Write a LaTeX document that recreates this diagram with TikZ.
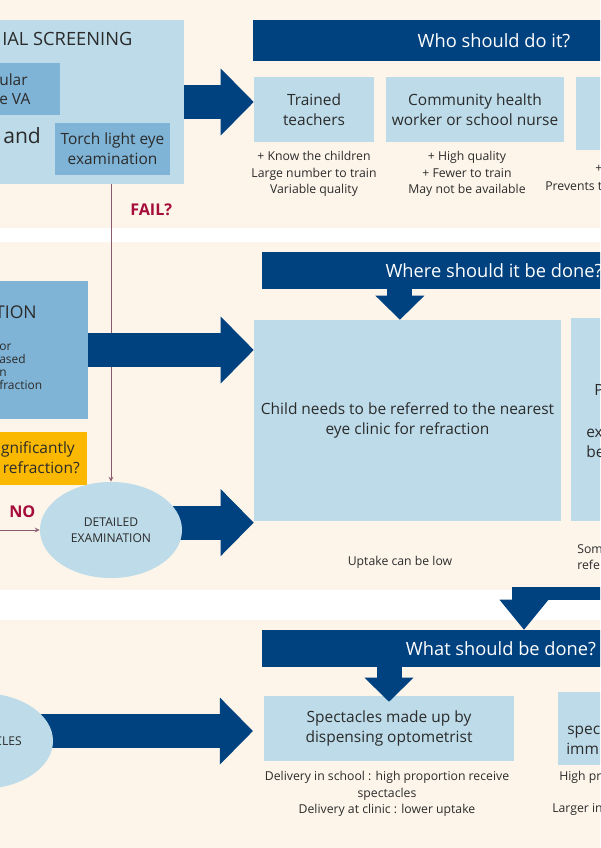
\documentclass[tikz,border=0pt]{standalone}
\usepackage{fontspec}
\setmainfont{Open Sans}
\usetikzlibrary{shapes.geometric,arrows,arrows.meta,calc}
\definecolor{cream}{HTML}{FDF5EA}
\definecolor{lblue}{HTML}{BDDBE8}
\definecolor{mblue}{HTML}{80B4D6}
\definecolor{navy}{HTML}{00427F}
\definecolor{gold}{HTML}{FBB800}
\definecolor{alert}{HTML}{A50D3B}
\definecolor{wine}{HTML}{8B5A6E}
\definecolor{ink}{HTML}{2B2B2B}
\pgfdeclarelayer{back}
\pgfsetlayers{back,main}

\begin{document}
\begin{tikzpicture}[x=0.025cm,y=-0.025cm]
\tikzstyle{box} = [rectangle, inner sep=0pt, fill=lblue, text=ink, align=center, font=\fontsize{11}{14.2}\selectfont]
\tikzstyle{midbox} = [box, fill=mblue]
\tikzstyle{header} = [rectangle, inner sep=0pt, fill=navy, text=white, font=\fontsize{13}{15}\selectfont]
\tikzstyle{oval} = [ellipse, inner sep=0pt, fill=lblue, text=ink, align=center, font=\fontsize{8.6}{11.4}\selectfont]
\tikzstyle{note} = [inner sep=0pt, text=ink, align=center, font=\fontsize{8.7}{11.7}\selectfont]
\tikzstyle{frag} = [inner sep=0pt, text=ink, font=\fontsize{11}{14.2}\selectfont]
\tikzstyle{small} = [note, anchor=base west]
\tikzstyle{caps} = [inner sep=0pt, text=ink, font=\fontsize{8.6}{11.4}\selectfont]
\tikzstyle{flag} = [inner sep=0pt, anchor=base west, text=alert, font=\fontsize{11.5}{12}\selectfont\bfseries]
\tikzstyle{bigarrow} = [draw=navy, line width=0.85cm, -{Triangle[length=0.825cm, width=1.675cm, line width=0pt]}]
\tikzstyle{downarrow} = [draw=navy, line width=0.625cm, -{Triangle[length=0.6cm, width=1.225cm, line width=0pt]}]
\tikzstyle{arrow} = [draw=wine, line width=0.6pt, ->, >=stealth]

\useasboundingbox (0,0) rectangle (600,848);
\clip (0,0) rectangle (600,848);

% bands
\begin{pgfonlayer}{back}
\fill[white] (0,0) rectangle (600,848);
\fill[cream] (0,0) rectangle (600,228);
\fill[cream] (0,242) rectangle (600,590);
\fill[cream] (0,620) rectangle (600,848);
\end{pgfonlayer}

% screening
\node (screen) [box, minimum width=5.1cm, minimum height=4.1cm] at (82,102) {};
\node (scrtitle) [frag, anchor=base west, font=\fontsize{13}{15}\selectfont] at (2,45) {IAL SCREENING};
\node (va) [midbox, minimum width=2cm, minimum height=1.3cm] at (20,89) {};
\node (va1) [frag, anchor=base west] at (-1,85) {ular};
\node (va2) [frag, anchor=base west] at (-1,104) {e VA};
\node (andtxt) [frag, anchor=base west, font=\fontsize{15}{18}\selectfont] at (3,143) {and};
\node (torch) [midbox, minimum width=2.875cm, minimum height=1.3cm] at (112.5,149) {Torch light eye\\examination};
\node (fail) [flag] at (130,215) {FAIL?};

% who
\node (who) [header, minimum width=12.05cm, minimum height=1.025cm] at (494,40.5) {Who should do it?};
\node (teach) [box, minimum width=3cm, minimum height=1.625cm] at (314,109.5) {Trained\\teachers};
\node (chw) [box, minimum width=4.45cm, minimum height=1.625cm] at (475,109.5) {Community health\\worker or school nurse};
\node (who3) [box, minimum width=3.1cm, minimum height=1.825cm] at (638,113.5) {};
\node (teachnote) [note, anchor=north] at (314,151) {+ Know the children\\Large number to train\\Variable quality};
\node (chwnote) [note, anchor=north] at (467,151) {+ High quality\\+ Fewer to train\\May not be available};
\node (who3a) [small] at (595,172) {+};
\node (who3b) [small] at (545,190) {Prevents t};

% refraction
\node (tion) [midbox, minimum width=2.7cm, minimum height=3.45cm] at (34,350) {};
\node (tiontitle) [frag, anchor=base east, font=\fontsize{12.5}{15}\selectfont] at (37,318) {TION};
\foreach \t/\y in {or/350, ased/363, n/376, fraction/389}
  \node (tion\y) [caps, anchor=base west, font=\fontsize{8.5}{9}\selectfont] at (-1,\y) {\t};
\node (sig) [box, fill=gold, minimum width=2.675cm, minimum height=1.325cm] at (33.5,458.5) {};
\node (sig1) [frag, anchor=base east] at (75,453) {gnificantly};
\node (sig2) [frag, anchor=base east] at (80,473) {refraction?};
\node (exam) [oval, minimum width=3.55cm, minimum height=2.4cm] at (111,530) {DETAILED\\EXAMINATION};
\node (no) [flag] at (9,517) {NO};
\coordinate (noin) at (-5,530);

% where
\node (where) [header, minimum width=11.6cm, minimum height=0.925cm] at (494,270.5) {Where should it be done?};
\node (refer) [box, minimum width=7.675cm, minimum height=5.025cm] at (407.5,420.5) {Child needs to be referred to the nearest\\eye clinic for refraction};
\node (where2) [box, minimum width=3.225cm, minimum height=5.075cm] at (635.5,419.5) {};
\node (where2a) [frag, anchor=base west] at (594,395) {P};
\node (where2b) [frag, anchor=base west] at (586,437) {ex};
\node (where2c) [frag, anchor=base west] at (586,457) {be};
\node (refernote) [note, anchor=base] at (400,565) {Uptake can be low};
\node (where2d) [small] at (577,553) {Som};
\node (where2e) [small] at (577,569) {refe};

% what
\node (what) [header, minimum width=11.95cm, minimum height=0.925cm] at (501,648.5) {What should be done?};
\node (spec) [box, minimum width=6.25cm, minimum height=1.625cm] at (389,728.5) {Spectacles made up by\\dispensing optometrist};
\node (what2) [box, minimum width=3.55cm, minimum height=1.825cm] at (629,728.5) {};
\node (what2a) [frag, anchor=base west] at (567,734) {spec};
\node (what2b) [frag, anchor=base west] at (566,754) {imm};
\node (specnote) [note, anchor=north] at (387,771) {Delivery in school : high proportion receive\\spectacles\\Delivery at clinic : lower uptake};
\node (what2c) [small] at (559,780) {High pr};
\node (what2d) [small] at (552,812) {Larger in};
\node (spect) [oval, minimum width=3.6cm, minimum height=2.4cm] at (-19,741) {};
\node (spectlbl) [caps, anchor=base east] at (22,745) {CLES};

\coordinate (wdrop) at ([xshift=-0.19cm]refer.north);
\coordinate (far) at (610,593.5);
\coordinate (elbow) at (512,593.5);
\coordinate (bend) at (524,587);

\draw [bigarrow] (screen.east) -- (screen.east -| teach.west);
\draw [arrow] (screen.south -| exam.north) -- (exam.north);
\draw [arrow] (noin) -- (exam.west);
\draw [bigarrow] (tion.east) -- (tion.east -| refer.west);
\draw [downarrow] (wdrop |- where.south) -- (wdrop);
\draw [navy, line width=0.325cm] (far) -- (elbow);
\draw [downarrow, -{Triangle[length=0.75cm, width=1.225cm, line width=0pt]}] (bend) -- (bend |- what.north);
\draw [downarrow, shorten >=-0.15cm] (spec.north |- what.south) -- (spec.north);
\begin{pgfonlayer}{back}
\draw [bigarrow] ([xshift=-0.2cm]exam.6) -- (exam.6 -| refer.west);
\draw [bigarrow, shorten >=0.27cm] ([xshift=-0.3cm]spect.8) -- (spect.8 -| spec.west);
\end{pgfonlayer}

\end{tikzpicture}
\end{document}
